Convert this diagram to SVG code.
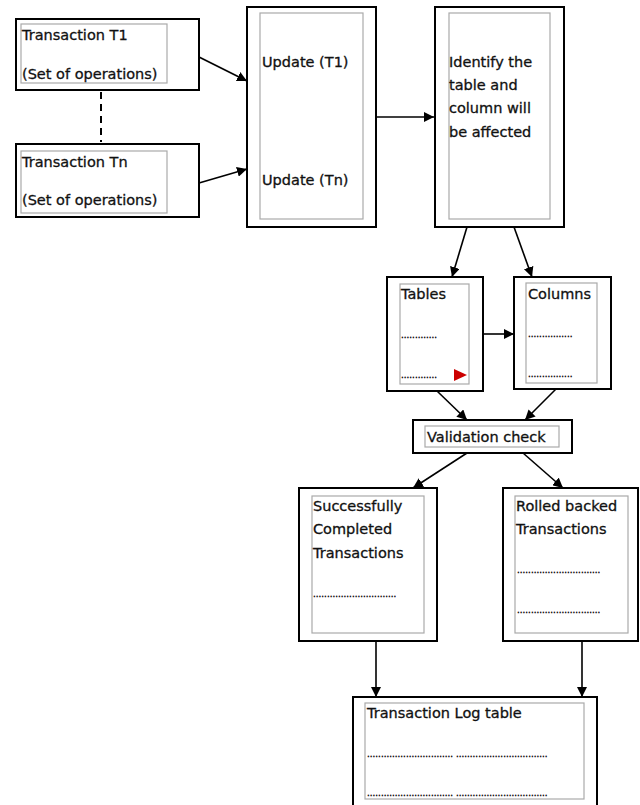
<svg xmlns="http://www.w3.org/2000/svg" width="640" height="805" viewBox="0 0 640 805">
<defs>
<marker id="ah" viewBox="0 0 10 10" refX="10" refY="5" markerWidth="10" markerHeight="10" markerUnits="userSpaceOnUse" orient="auto">
<path d="M0,0 L10,5 L0,10 z" fill="#000"/>
</marker>
<style>
.outer{fill:#fff;stroke:#000;stroke-width:2}
.inner{fill:#fff;stroke:#aaa;stroke-width:1.2}
.t{font-family:"DejaVu Sans","Liberation Sans",sans-serif;font-size:14.5px;fill:#111;stroke:#111;stroke-width:0.3}
.d{font-family:"Liberation Sans",sans-serif;font-size:10px;fill:#000;stroke:#000;stroke-width:0.3}
.c{stroke:#000;stroke-width:1.6;fill:none;marker-end:url(#ah)}
</style>
</defs>
<rect width="640" height="805" fill="#fff"/>
<g id="t1">
<rect class="outer" x="16" y="19" width="183" height="71"/>
<rect class="inner" x="21" y="24" width="146" height="59"/>
<text class="t" x="22" y="40">Transaction T1</text>
<text class="t" x="22" y="79">(Set of operations)</text>
</g>
<g id="tn">
<rect class="outer" x="16" y="144" width="183" height="73"/>
<rect class="inner" x="21" y="151" width="146" height="62"/>
<text class="t" x="22" y="167">Transaction Tn</text>
<text class="t" x="22" y="205">(Set of operations)</text>
</g>
<g id="update">
<rect class="outer" x="247" y="7" width="129" height="220"/>
<rect class="inner" x="260" y="13" width="103" height="206"/>
<text class="t" x="262" y="67">Update (T1)</text>
<text class="t" x="262" y="185">Update (Tn)</text>
</g>
<g id="identify">
<rect class="outer" x="435" y="7" width="129" height="220"/>
<rect class="inner" x="449" y="13" width="101" height="206"/>
<text class="t" x="449" y="67">Identify the</text>
<text class="t" x="449" y="90">table and</text>
<text class="t" x="449" y="113">column will</text>
<text class="t" x="449" y="137">be affected</text>
</g>
<g id="tables">
<rect class="outer" x="387" y="277" width="96" height="114"/>
<rect class="inner" x="400" y="284" width="69" height="100"/>
<text class="t" x="401" y="299">Tables</text>
<text class="d" x="401" y="338">.............</text>
<text class="d" x="401" y="378">.............</text>
<path d="M454,369 L467,375 L454,381 z" fill="#cc0000"/>
</g>
<g id="columns">
<rect class="outer" x="514" y="277" width="97" height="112"/>
<rect class="inner" x="526" y="283" width="71" height="100"/>
<text class="t" x="528" y="299">Columns</text>
<text class="d" x="528" y="337">................</text>
<text class="d" x="528" y="377">................</text>
</g>
<g id="validation">
<rect class="outer" x="413" y="420" width="159" height="33"/>
<rect class="inner" x="425" y="426" width="134" height="21"/>
<text class="t" x="427" y="442">Validation check</text>
</g>
<g id="success">
<rect class="outer" x="299" y="488" width="138" height="153"/>
<rect class="inner" x="312" y="496" width="112" height="137"/>
<text class="t" x="313" y="511">Successfully</text>
<text class="t" x="313" y="534">Completed</text>
<text class="t" x="313" y="558">Transactions</text>
<text class="d" x="313" y="597">..............................</text>
</g>
<g id="rolled">
<rect class="outer" x="503" y="488" width="135" height="153"/>
<rect class="inner" x="515" y="496" width="113" height="137"/>
<text class="t" x="516" y="511">Rolled backed</text>
<text class="t" x="516" y="534">Transactions</text>
<text class="d" x="517" y="573">..............................</text>
<text class="d" x="517" y="613">..............................</text>
</g>
<g id="log">
<rect class="outer" x="353" y="697" width="244" height="112"/>
<rect class="inner" x="365" y="703" width="219" height="96"/>
<text class="t" x="367" y="718">Transaction Log table</text>
<text class="d" x="367" y="757">............................... .................................</text>
<text class="d" x="367" y="796">............................... .................................</text>
</g>
<g id="connectors">
<line x1="101" y1="92" x2="101" y2="142" stroke="#000" stroke-width="2" stroke-dasharray="7,5"/>
<line class="c" x1="199" y1="57" x2="247" y2="81"/>
<line class="c" x1="199" y1="183" x2="247" y2="169"/>
<line class="c" x1="376" y1="117" x2="434" y2="117"/>
<line class="c" x1="467" y1="227" x2="452" y2="277"/>
<line class="c" x1="514" y1="227" x2="532" y2="277"/>
<line class="c" x1="483" y1="334" x2="514" y2="334"/>
<line class="c" x1="437" y1="391" x2="467" y2="420"/>
<line class="c" x1="556" y1="389" x2="525" y2="420"/>
<line class="c" x1="467" y1="453" x2="413" y2="488"/>
<line class="c" x1="523" y1="453" x2="563" y2="488"/>
<line class="c" x1="376" y1="641" x2="376" y2="697"/>
<line class="c" x1="582" y1="641" x2="582" y2="697"/>
</g>
</svg>
